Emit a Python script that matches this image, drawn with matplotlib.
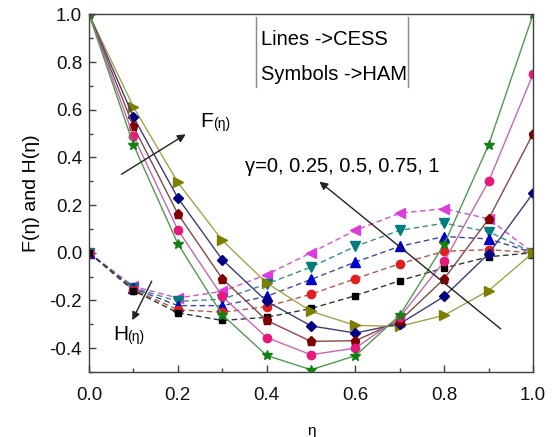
import matplotlib
matplotlib.use('Agg')
import matplotlib.pyplot as plt
from matplotlib.ticker import MultipleLocator

plt.rcParams['font.family'] = ['Liberation Sans', 'DejaVu Sans']

eta = [0.0, 0.1, 0.2, 0.3, 0.4, 0.5, 0.6, 0.7, 0.8, 0.9, 1.0]

# F(eta) curves, named by F(1)
f_gamma_0 = [1.0, 0.612, 0.295, 0.052, -0.127, -0.246, -0.305, -0.309, -0.262, -0.159, 0.0]
f_gamma_025 = [1.0, 0.570, 0.230, -0.029, -0.204, -0.307, -0.337, -0.298, -0.183, -0.004, 0.25]
f_gamma_05 = [1.0, 0.530, 0.163, -0.109, -0.284, -0.372, -0.369, -0.285, -0.109, 0.142, 0.5]
f_gamma_075 = [1.0, 0.490, 0.096, -0.183, -0.356, -0.428, -0.400, -0.270, -0.036, 0.300, 0.75]
f_gamma_1 = [1.0, 0.453, 0.038, -0.260, -0.431, -0.491, -0.432, -0.262, 0.036, 0.453, 1.0]

# H(eta) curves
h_magenta = [0.0, -0.141, -0.190, -0.162, -0.092, 0.000, 0.094, 0.166, 0.185, 0.142, 0.0]
h_teal = [0.0, -0.147, -0.204, -0.195, -0.131, -0.060, 0.027, 0.094, 0.124, 0.088, 0.0]
h_blue = [0.0, -0.150, -0.222, -0.222, -0.183, -0.112, -0.039, 0.027, 0.068, 0.058, 0.0]
h_red = [0.0, -0.155, -0.239, -0.250, -0.226, -0.174, -0.109, -0.046, 0.006, 0.013, 0.0]
h_black = [0.0, -0.159, -0.252, -0.284, -0.271, -0.234, -0.180, -0.117, -0.064, -0.017, 0.0]

f_series = [
    (f_gamma_0, '>', '#7e7e00', '#a3a348', 6.5),
    (f_gamma_025, 'D', '#000080', '#3c3c78', 5),
    (f_gamma_05, 'p', '#800000', '#844848', 6.5),
    (f_gamma_075, 'o', '#e6197d', '#c468b4', 6),
    (f_gamma_1, '*', '#138013', '#4f9a4f', 7.5),
]
h_series = [
    (h_magenta, '<', '#dc3cdc', '#cf55cf', 6.5),
    (h_teal, 'v', '#007c7c', '#3d8a8a', 6.5),
    (h_blue, '^', '#0000c8', '#3a4a96', 6.5),
    (h_red, 'o', '#e02020', '#b05a4a', 6),
    (h_black, 's', '#000000', '#333333', 5),
]

fig = plt.figure(figsize=(5.53, 4.37), dpi=100)
ax = fig.add_axes([0.161, 0.149, 0.803, 0.818])

for ys, m, mc, lc, ms in h_series:
    ax.plot(eta, ys, color=lc, lw=1, dashes=(4, 2.5))
    ax.plot(eta, ys, ls='none', marker=m, color=mc, ms=ms, mec=mc)

for ys, m, mc, lc, ms in f_series:
    ax.plot(eta, ys, color=lc, lw=1)
    ax.plot(eta, ys, ls='none', marker=m, color=mc, ms=ms, mec=mc)

ax.set_xlim(0, 1)
ax.set_ylim(-0.5, 1.0)
ax.xaxis.set_major_locator(MultipleLocator(0.2))
ax.xaxis.set_minor_locator(MultipleLocator(0.1))
ax.yaxis.set_major_locator(MultipleLocator(0.2))
ax.yaxis.set_minor_locator(MultipleLocator(0.1))
ax.xaxis.set_major_formatter(matplotlib.ticker.FormatStrFormatter('%.1f'))
ax.yaxis.set_major_formatter(matplotlib.ticker.FormatStrFormatter('%.1f'))
ax.tick_params(which='both', direction='in', top=False, right=False,
               color='#404040', labelsize=13.5, labelcolor='#111111')
ax.tick_params(which='major', length=5, width=1)
ax.tick_params(axis='x', which='major', pad=11)
ax.tick_params(axis='y', which='major', pad=5)
ax.tick_params(which='minor', length=3, width=1)
for s in ax.spines.values():
    s.set_color('#404040')
    s.set_linewidth(1)

ax.set_xlabel('η', fontsize=11, labelpad=14)
ax.set_ylabel('F(η) and H(η)', fontsize=14, labelpad=7)

# legend-like note box
ax.plot([0.376, 0.376], [0.99, 0.696], color='#888888', lw=1)
ax.plot([0.718, 0.718], [0.99, 0.696], color='#888888', lw=1)
ax.text(0.387, 0.893, 'Lines ->CESS', fontsize=14.5, va='center', ha='left')
ax.text(0.387, 0.746, 'Symbols ->HAM', fontsize=14.5, va='center', ha='left')

arrow = dict(arrowstyle='-|>', lw=1, color='#222222', mutation_scale=12)
ax.annotate('', xy=(0.223, 0.503), xytext=(0.0676, 0.323), arrowprops=arrow)
ax.annotate('', xy=(0.514, 0.306), xytext=(0.932, -0.327), arrowprops=arrow)
ax.annotate('', xy=(0.0946, -0.2935), xytext=(0.144, -0.109), arrowprops=arrow)

ax.text(0.25, 0.549, 'F', fontsize=15, va='center', ha='left')
ax.text(0.280, 0.540, '(η)', fontsize=10, va='center', ha='left')
ax.text(0.054, -0.344, 'H', fontsize=15, va='center', ha='left')
ax.text(0.086, -0.353, '(η)', fontsize=10, va='center', ha='left')
ax.text(0.351, 0.36, 'γ=0, 0.25, 0.5, 0.75, 1', fontsize=14.5, va='center', ha='left')

fig.savefig('out.png', dpi=100)
